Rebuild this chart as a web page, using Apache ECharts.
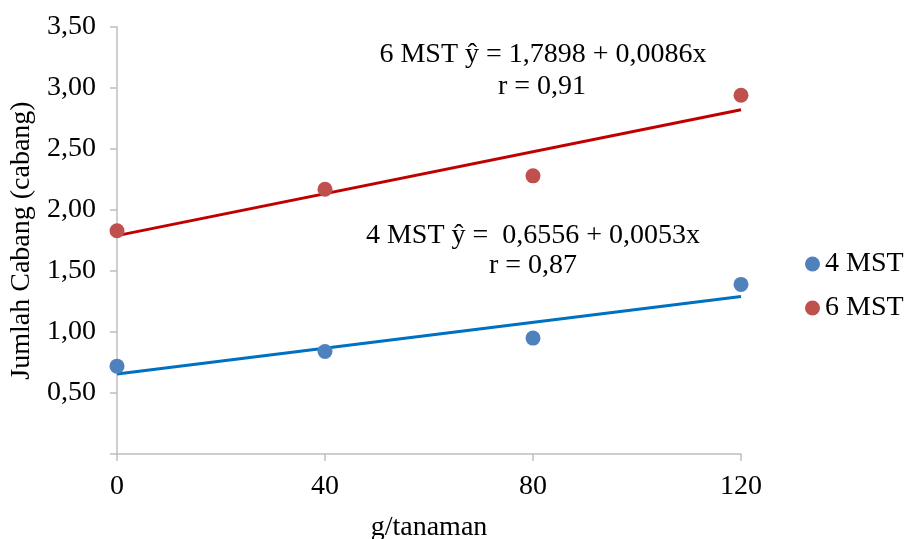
<!DOCTYPE html>
<html>
<head>
<meta charset="utf-8">
<script src="https://cdn.jsdelivr.net/npm/echarts@6/dist/echarts.min.js"></script>
<style>html,body{margin:0;padding:0;background:#fff}#c{width:906px;height:539px}</style>
</head>
<body>
<div id="c"></div>
<script>
const doses = [0, 40, 80, 120];
const mst4 = [0.72, 0.84, 0.95, 1.39];
const mst6 = [1.83, 2.17, 2.28, 2.94];
const trend4 = { intercept: 0.6556, slope: 0.0053 };
const trend6 = { intercept: 1.7898, slope: 0.0086 };
const xTicks = [0, 40, 80, 120];

const font = 'Liberation Serif';
const fs = 28;
const chart = echarts.init(document.getElementById('c'));
const pts = (ys) => doses.map((x, i) => [x, ys[i]]);
const line = (t) => [doses[0], doses[doses.length - 1]].map(x => [x, t.intercept + t.slope * x]);
const txt = (text, x, y) => ({ type: 'text', x: x, y: y, style: { text: text, font: fs + 'px "Liberation Serif"', fill: '#000', align: 'center', verticalAlign: 'middle' } });

chart.setOption({
  animation: false,
  textStyle: { fontFamily: font, color: '#000' },
  grid: { left: 117, right: 165, top: 27, bottom: 85, containLabel: false, outerBoundsMode: 'none' },
  xAxis: {
    type: 'value', min: xTicks[0], max: xTicks[xTicks.length - 1], interval: 40,
    name: 'g/tanaman', nameLocation: 'middle', nameGap: 60,
    nameTextStyle: { fontFamily: font, fontSize: fs, color: '#000' },
    axisLine: { lineStyle: { color: '#bfbfbf', width: 1.5 } },
    axisTick: { show: true, length: 7, lineStyle: { color: '#bfbfbf', width: 1.5 } },
    axisLabel: { fontFamily: font, fontSize: fs, color: '#000', margin: 19 },
    splitLine: { show: false }
  },
  yAxis: {
    type: 'value', min: 0, max: 3.5, interval: 0.5,
    name: 'Jumlah Cabang (cabang)', nameLocation: 'middle', nameGap: 81, nameRotate: 90,
    nameTextStyle: { fontFamily: font, fontSize: fs, color: '#000' },
    axisLine: { show: true, lineStyle: { color: '#bfbfbf', width: 1.5 } },
    axisTick: { show: true, length: 7, lineStyle: { color: '#bfbfbf', width: 1.5 } },
    axisLabel: {
      fontFamily: font, fontSize: fs, color: '#000', margin: 21,
      formatter: v => v === 0 ? '' : v.toFixed(2).replace('.', ',')
    },
    splitLine: { show: false }
  },
  legend: {
    orient: 'vertical', left: 800, top: 244, itemGap: 14,
    icon: 'circle', itemWidth: 15, itemHeight: 15,
    textStyle: { fontFamily: font, fontSize: fs, color: '#000', lineHeight: 30 },
    data: ['4 MST', '6 MST']
  },
  series: [
    { type: 'line', data: line(trend4), symbol: 'none', lineStyle: { color: '#0070c0', width: 3 }, z: 1, silent: true },
    { type: 'line', data: line(trend6), symbol: 'none', lineStyle: { color: '#c00000', width: 3 }, z: 1, silent: true },
    { name: '4 MST', type: 'scatter', data: pts(mst4), symbolSize: 15, itemStyle: { color: '#4f81bd', opacity: 1 }, z: 3 },
    { name: '6 MST', type: 'scatter', data: pts(mst6), symbolSize: 15, itemStyle: { color: '#c0504d', opacity: 1 }, z: 3 }
  ],
  graphic: [
    txt('6 MST ŷ = 1,7898 + 0,0086x', 543, 55),
    txt('r = 0,91', 542, 87),
    txt('4 MST ŷ =  0,6556 + 0,0053x', 533, 236),
    txt('r = 0,87', 533, 266)
  ]
});
</script>
</body>
</html>
